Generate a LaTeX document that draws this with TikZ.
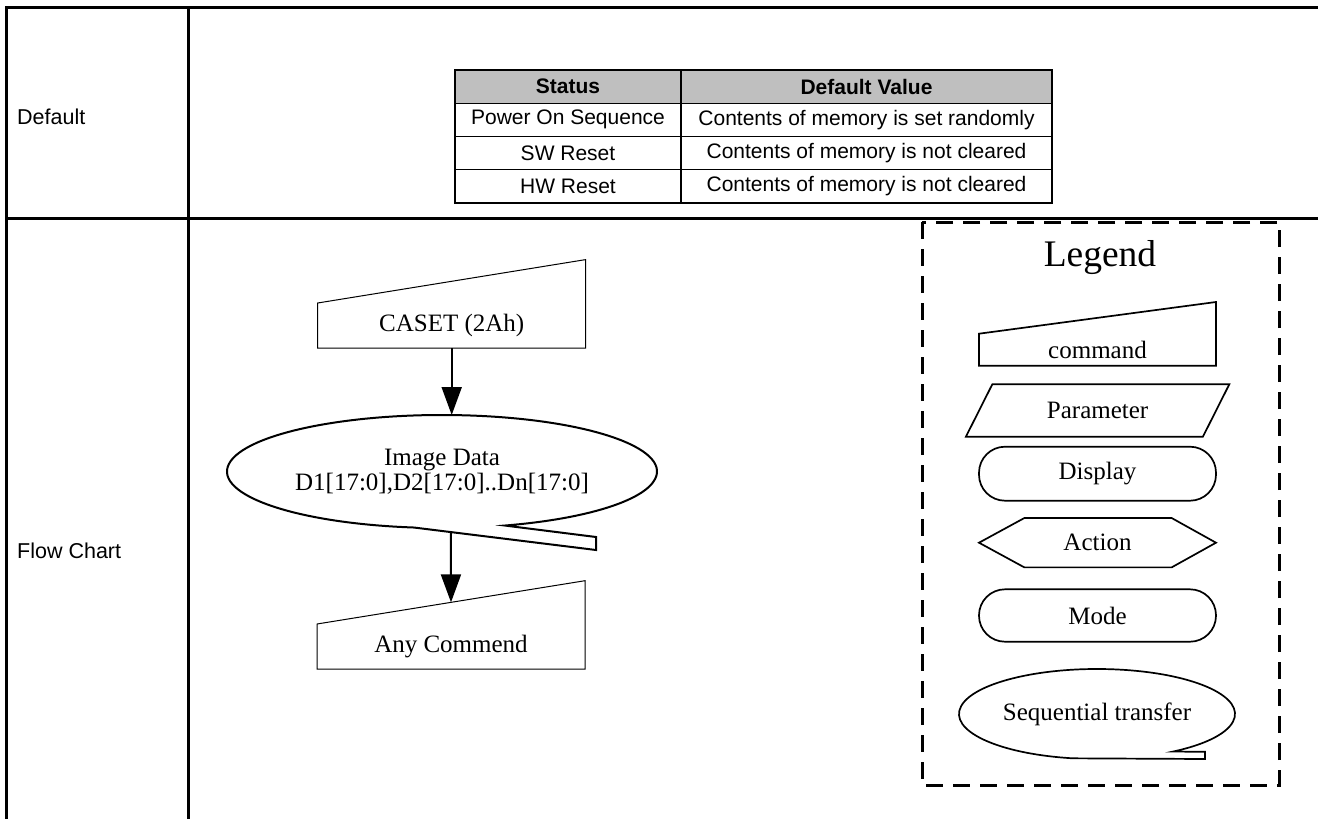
\documentclass[tikz,border=0pt]{standalone}
\usepackage{fontspec}
\setmainfont{Liberation Serif}
\setsansfont{Liberation Sans}
\usetikzlibrary{arrows.meta,positioning,calc,shapes.geometric}
\tikzset{
  tabline/.style={line width=3pt},
  cell/.style   ={draw,line width=1.2pt,outer sep=0pt,inner sep=0pt,
                  minimum height=33.3pt,font=\fontsize{21}{24}\sffamily},
  hcell/.style  ={cell,fill=gray!50,font=\fontsize{21}{24}\sffamily\bfseries},
  lab/.style    ={anchor=west,inner sep=0pt,font=\fontsize{21.5}{24}\sffamily},
  cmd/.style    ={outer sep=0pt,inner sep=0pt,minimum width=268pt,
                  minimum height=45pt,font=\fontsize{25}{30}\selectfont},
  seq/.style    ={shape=ellipse,outer sep=0pt,inner sep=0pt,align=center,
                  font=\fontsize{25}{25}\selectfont},
  lbox/.style   ={outer sep=0pt,inner sep=0pt,minimum width=237pt,
                  line width=1.7pt,font=\fontsize{25}{30}\selectfont},
  thin/.style   ={line width=1pt},
  seqline/.style={line width=2pt},
  legline/.style={line width=1.7pt},
  legbox/.style ={line width=3pt,dash pattern=on 17pt off 10pt},
  arr/.style    ={line width=2pt,-{Triangle[length=28pt,width=20pt]}},
}

\begin{document}
\begin{tikzpicture}[x=1pt,y=-1pt]
\useasboundingbox (0,0) rectangle (1318,819);
% outer frame
\draw[tabline] (6,819) -- (6,7) -- (1318,7);
\draw[tabline] (188,7) -- (188,819);
\draw[tabline] (6,218) -- (1318,218);
\node[lab] (DEF) at (17,117) {Default};
\node[lab] (FC) at (17,551) {Flow Chart};
% default values
\node[hcell,minimum width=226pt] (ST) at (568,86.5) {Status};
\node[hcell,minimum width=371pt,right=0pt of ST] (DV) {Default Value};
\node[cell,minimum width=226pt,below=0pt of ST] (P1) {Power On Sequence};
\node[cell,minimum width=371pt,below=0pt of DV] (V1) {Contents of memory is set randomly};
\node[cell,minimum width=226pt,below=0pt of P1] (P2) {SW Reset};
\node[cell,minimum width=371pt,below=0pt of V1] (V2) {Contents of memory is not cleared};
\node[cell,minimum width=226pt,below=0pt of P2] (P3) {HW Reset};
\node[cell,minimum width=371pt,below=0pt of V2] (V3) {Contents of memory is not cleared};
\draw[line width=2pt] (ST.north west) rectangle (V3.south east);
% flow chart
\node[cmd] (CAS) at (451.7,325.5) {CASET (2Ah)};
\draw[thin] (CAS.north west) -- (CAS.south west) -- (CAS.south east)
  -- ([yshift=43.4pt]CAS.north east) -- cycle;
\node[seq,minimum width=430pt,minimum height=113pt] (IMG) at (442,471.5)
  {Image Data\\D1[17:0],D2[17:0]..Dn[17:0]};
\coordinate (IMGL) at ($(IMG.center)+(262.5:215pt and 56.5pt)$);
\coordinate (IMGT) at (596,550);
\draw[seqline] (IMGL) arc[start angle=262.5,end angle=-73,x radius=215pt,y radius=56.5pt]
  -- (596,537) -- (IMGT) -- cycle;
\node[cmd] (ANY) at (451,646.5) {Any Commend};
\coordinate (ANYR) at ([yshift=43.3pt]ANY.north east);
\draw[thin] (ANY.north west) -- (ANY.south west) -- (ANY.south east) -- (ANYR) -- cycle;
\draw[arr] (CAS.south) -- (CAS.south |- IMG.north);
\draw[arr] ($(IMGL)!0.203!(IMGT)$) -- ($(ANY.north west)!0.5!(ANYR)$);
% legend
\draw[legbox] (922,222) rectangle (1279,785);
\node[font=\fontsize{37.5}{40}\selectfont] (LEG) at (1100,258) {Legend};
\node[lbox,minimum height=32pt] (LCMD) at (1097.5,349.7) {command};
\draw[legline] (LCMD.north west) -- (LCMD.south west) -- (LCMD.south east)
  -- ([yshift=31.7pt]LCMD.north east) -- cycle;
\node[lbox,minimum height=52.4pt] (LPAR) at (1097.6,410.5) {Parameter};
\draw[legline] ([xshift=-13.2pt]LPAR.south west) -- ([xshift=-13.2pt]LPAR.south east)
  -- ([xshift=13.2pt]LPAR.north east) -- ([xshift=13.2pt]LPAR.north west) -- cycle;
\node[lbox,draw,rounded corners=26pt,minimum height=54pt] (LDIS) at (1097.5,473.7) {Display};
\node[lbox,minimum height=49.3pt] (LACT) at (1097.5,542.7) {Action};
\draw[legline] (LACT.west) -- ([xshift=45.3pt]LACT.north west) -- ([xshift=-44.3pt]LACT.north east)
  -- (LACT.east) -- ([xshift=-44.3pt]LACT.south east) -- ([xshift=45.3pt]LACT.south west) -- cycle;
\node[lbox,draw,rounded corners=26pt,minimum height=52.4pt] (LMOD) at (1097.5,615.5) {Mode};
\node[lbox,minimum width=276pt,minimum height=90pt] (LSEQ) at (1097,714) {Sequential transfer};
\draw[legline] ($(LSEQ.center)+(260:138pt and 45pt)$)
  arc[start angle=260,end angle=-56.7,x radius=138pt,y radius=45pt]
  -- (1205,751.7) -- (1205,759) -- cycle;
\end{tikzpicture}
\end{document}
